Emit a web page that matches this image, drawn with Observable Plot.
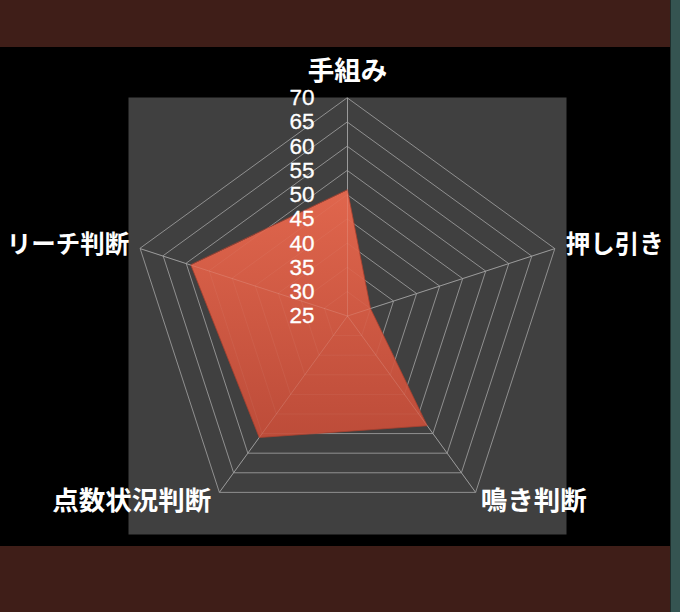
<!DOCTYPE html>
<html>
<head>
<meta charset="utf-8">
<script src="https://cdn.jsdelivr.net/npm/d3@7"></script>
<script src="https://cdn.jsdelivr.net/npm/@observablehq/plot@0.6"></script>
<style>
  html, body { margin: 0; padding: 0; }
  body { width: 680px; height: 612px; background: #000; position: relative; overflow: hidden; }
  .band { background: #3f1e18; width: 680px; }
  #strip { position: absolute; top: 0; right: 0; width: 9px; height: 612px; background: #355451; border-left: 1px solid #1f2e2c; }
  #chart svg { display: block; }
</style>
</head>
<body>
<div class="band" style="height:47px"></div>
<div id="chart"></div>
<div class="band" style="height:66px"></div>
<div id="strip"></div>
<script>
// ---- data ----
const axes = ["手組み", "押し引き", "鳴き判断", "点数状況判断", "リーチ判断"];
const values = [51, 30, 53, 56, 59];
const ticks = [25, 30, 35, 40, 45, 50, 55, 60, 65, 70];

// ---- geometry helpers (data -> unit polar coordinates, then Plot scales) ----
const rScale = d3.scaleLinear([ticks[0], ticks[ticks.length - 1]], [0, 1]);
const angle = i => (2 * Math.PI * i) / axes.length;
const px = (v, i) => rScale(v) * Math.sin(angle(i));
const py = (v, i) => rScale(v) * Math.cos(angle(i));
const maxV = ticks[ticks.length - 1];

const series = axes.map((a, i) => ({axis: a, i, value: values[i]}));
const rings = ticks.slice(1).flatMap(t => axes.map((a, i) => ({t, i})));
const spokes = axes.map((a, i) => ({axis: a, i}));
const tickRows = ticks.map(t => ({t}));

const gridStroke = "#8a8a8a";
const labelFont = "'Noto Sans CJK JP', 'Noto Sans', sans-serif";
const labelSize = 26.5;
const sideSize = 24.5;

const svg = Plot.plot({
  width: 680,
  height: 499,
  marginLeft: 128,
  marginRight: 114,
  marginTop: 50,
  marginBottom: 12,
  x: {domain: [-219 / 218, 219 / 218], axis: null},
  y: {domain: [-218.5 / 218, 218.5 / 218], axis: null},
  style: {background: "transparent", overflow: "visible"},
  marks: [
    Plot.frame({fill: "#404040", stroke: "none"}),
    // grid rings
    Plot.line(rings, {x: d => px(d.t, d.i), y: d => py(d.t, d.i), z: "t", curve: "linear-closed", stroke: gridStroke, strokeWidth: 1}),
    // spokes
    Plot.link(spokes, {x1: () => 0, y1: () => 0, x2: d => px(maxV, d.i), y2: d => py(maxV, d.i), stroke: gridStroke, strokeWidth: 1}),
    // data polygon
    Plot.line(series, {x: d => px(d.value, d.i), y: d => py(d.value, d.i), curve: "linear-closed", fill: "url(#polyGrad)", stroke: "#a8402f", strokeWidth: 0.8}),
    // faint grid showing through polygon
    Plot.line(rings, {x: d => px(d.t, d.i), y: d => py(d.t, d.i), z: "t", curve: "linear-closed", stroke: "#ffffff", strokeOpacity: 0.05, strokeWidth: 1}),
    Plot.link(spokes, {x1: () => 0, y1: () => 0, x2: d => px(maxV, d.i), y2: d => py(maxV, d.i), stroke: "#ffffff", strokeOpacity: 0.14, strokeWidth: 1}),
    // tick labels
    Plot.text(tickRows, {x: () => 0, y: d => rScale(d.t), text: d => String(d.t), textAnchor: "end", dx: -33, fill: "#ffffff", fontSize: 22.5, fontFamily: "'Liberation Sans', Arial, sans-serif", stroke: "#ffffff", strokeWidth: 0.3}),
    // axis labels
    Plot.text(spokes.filter(d => d.i === 0), {x: d => px(maxV, d.i), y: d => py(maxV, d.i), text: "axis", textAnchor: "middle", dy: -26, fill: "#fff", fontSize: labelSize, fontWeight: "bold", fontFamily: labelFont}),
    Plot.text(spokes.filter(d => d.i === 1), {x: d => px(maxV, d.i), y: d => py(maxV, d.i), text: "axis", textAnchor: "start", dx: 11, dy: -3, fill: "#fff", fontSize: sideSize, fontWeight: "bold", fontFamily: labelFont}),
    Plot.text(spokes.filter(d => d.i === 4), {x: d => px(maxV, d.i), y: d => py(maxV, d.i), text: "axis", textAnchor: "end", dx: -11, dy: -3, fill: "#fff", fontSize: sideSize, fontWeight: "bold", fontFamily: labelFont}),
    Plot.text(spokes.filter(d => d.i === 2), {x: d => px(maxV, d.i), y: d => py(maxV, d.i), text: "axis", textAnchor: "start", dx: 5, dy: 9, fill: "#fff", fontSize: labelSize, fontWeight: "bold", fontFamily: labelFont}),
    Plot.text(spokes.filter(d => d.i === 3), {x: d => px(maxV, d.i), y: d => py(maxV, d.i), text: "axis", textAnchor: "end", dx: -8, dy: 9, fill: "#fff", fontSize: labelSize, fontWeight: "bold", fontFamily: labelFont})
  ]
});

// gradient + shadow definitions for the polygon
const defs = d3.select(svg).insert("defs", ":first-child");
const g = defs.append("linearGradient").attr("id", "polyGrad").attr("x1", 0).attr("y1", 0).attr("x2", 0).attr("y2", 1);
g.append("stop").attr("offset", "0%").attr("stop-color", "#e0664d");
g.append("stop").attr("offset", "100%").attr("stop-color", "#bd4c39");
const f = defs.append("filter").attr("id", "polyShadow").attr("x", "-10%").attr("y", "-10%").attr("width", "130%").attr("height", "130%");
f.append("feDropShadow").attr("dx", 1).attr("dy", 3).attr("stdDeviation", 2.5).attr("flood-color", "#000").attr("flood-opacity", 0.7);
d3.select(svg).selectAll("path").filter(function() { return this.getAttribute("fill") === "url(#polyGrad)"; }).attr("filter", "url(#polyShadow)");

document.getElementById("chart").appendChild(svg);
</script>
</body>
</html>
